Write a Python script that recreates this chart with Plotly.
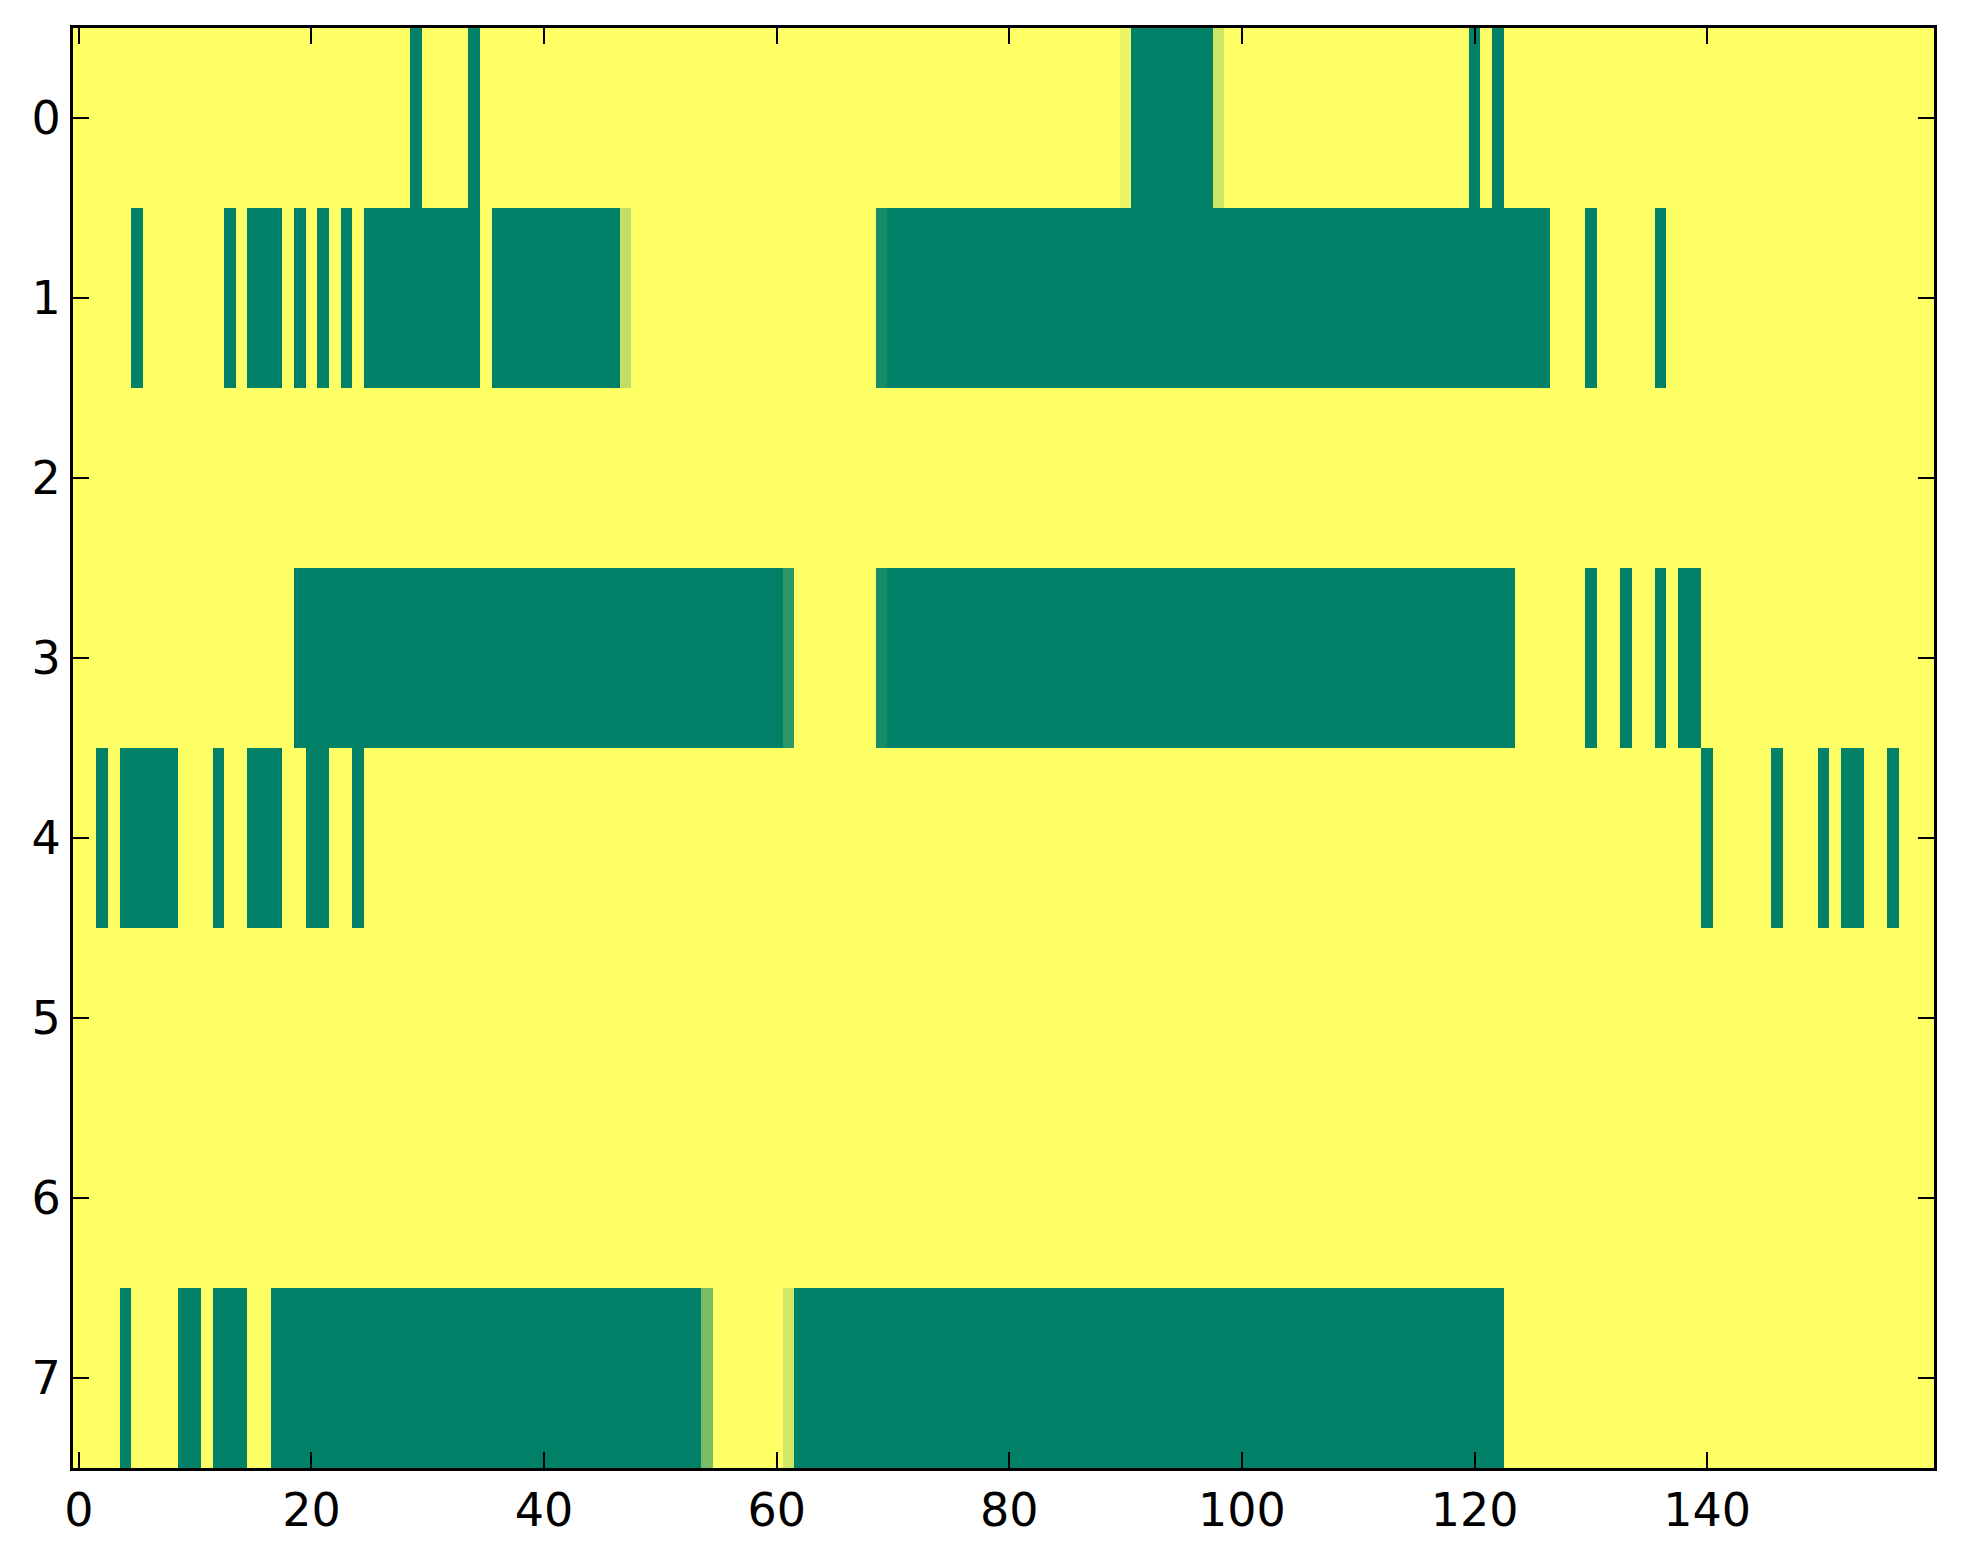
import plotly.graph_objects as go

# ------------ data: 8 rows x 160 columns (1 = yellow, 0 = green)
row_0 = [
    1, 1, 1, 1, 1, 1, 1, 1, 1, 1, 1, 1, 1, 1, 1, 1, 1, 1, 1, 1,
    1, 1, 1, 1, 1, 1, 1, 1, 1, 0, 1, 1, 1, 1, 0, 1, 1, 1, 1, 1,
    1, 1, 1, 1, 1, 1, 1, 1, 1, 1, 1, 1, 1, 1, 1, 1, 1, 1, 1, 1,
    1, 1, 1, 1, 1, 1, 1, 1, 1, 1, 1, 1, 1, 1, 1, 1, 1, 1, 1, 1,
    1, 1, 1, 1, 1, 1, 1, 1, 1, 1, 0.92, 0, 0, 0, 0, 0, 0, 0, 0.8, 1,
    1, 1, 1, 1, 1, 1, 1, 1, 1, 1, 1, 1, 1, 1, 1, 1, 1, 1, 1, 1,
    0, 1, 0, 1, 1, 1, 1, 1, 1, 1, 1, 1, 1, 1, 1, 1, 1, 1, 1, 1,
    1, 1, 1, 1, 1, 1, 1, 1, 1, 1, 1, 1, 1, 1, 1, 1, 1, 1, 1, 1,
]
row_1 = [
    1, 1, 1, 1, 1, 0, 1, 1, 1, 1, 1, 1, 1, 0, 1, 0, 0, 0, 1, 0,
    1, 0, 1, 0, 1, 0, 0, 0, 0, 0, 0, 0, 0, 0, 0, 1, 0, 0, 0, 0,
    0, 0, 0, 0, 0, 0, 0, 0.75, 1, 1, 1, 1, 1, 1, 1, 1, 1, 1, 1, 1,
    1, 1, 1, 1, 1, 1, 1, 1, 1, 0.09, 0, 0, 0, 0, 0, 0, 0, 0, 0, 0,
    0, 0, 0, 0, 0, 0, 0, 0, 0, 0, 0, 0, 0, 0, 0, 0, 0, 0, 0, 0,
    0, 0, 0, 0, 0, 0, 0, 0, 0, 0, 0, 0, 0, 0, 0, 0, 0, 0, 0, 0,
    0, 0, 0, 0, 0, 0, 0, 1, 1, 1, 0, 1, 1, 1, 1, 1, 0, 1, 1, 1,
    1, 1, 1, 1, 1, 1, 1, 1, 1, 1, 1, 1, 1, 1, 1, 1, 1, 1, 1, 1,
]
row_2 = [
    1, 1, 1, 1, 1, 1, 1, 1, 1, 1, 1, 1, 1, 1, 1, 1, 1, 1, 1, 1,
    1, 1, 1, 1, 1, 1, 1, 1, 1, 1, 1, 1, 1, 1, 1, 1, 1, 1, 1, 1,
    1, 1, 1, 1, 1, 1, 1, 1, 1, 1, 1, 1, 1, 1, 1, 1, 1, 1, 1, 1,
    1, 1, 1, 1, 1, 1, 1, 1, 1, 1, 1, 1, 1, 1, 1, 1, 1, 1, 1, 1,
    1, 1, 1, 1, 1, 1, 1, 1, 1, 1, 1, 1, 1, 1, 1, 1, 1, 1, 1, 1,
    1, 1, 1, 1, 1, 1, 1, 1, 1, 1, 1, 1, 1, 1, 1, 1, 1, 1, 1, 1,
    1, 1, 1, 1, 1, 1, 1, 1, 1, 1, 1, 1, 1, 1, 1, 1, 1, 1, 1, 1,
    1, 1, 1, 1, 1, 1, 1, 1, 1, 1, 1, 1, 1, 1, 1, 1, 1, 1, 1, 1,
]
row_3 = [
    1, 1, 1, 1, 1, 1, 1, 1, 1, 1, 1, 1, 1, 1, 1, 1, 1, 1, 1, 0,
    0, 0, 0, 0, 0, 0, 0, 0, 0, 0, 0, 0, 0, 0, 0, 0, 0, 0, 0, 0,
    0, 0, 0, 0, 0, 0, 0, 0, 0, 0, 0, 0, 0, 0, 0, 0, 0, 0, 0, 0,
    0, 0.18, 1, 1, 1, 1, 1, 1, 1, 0.09, 0, 0, 0, 0, 0, 0, 0, 0, 0, 0,
    0, 0, 0, 0, 0, 0, 0, 0, 0, 0, 0, 0, 0, 0, 0, 0, 0, 0, 0, 0,
    0, 0, 0, 0, 0, 0, 0, 0, 0, 0, 0, 0, 0, 0, 0, 0, 0, 0, 0, 0,
    0, 0, 0, 0, 1, 1, 1, 1, 1, 1, 0, 1, 1, 0, 1, 1, 0, 1, 0, 0,
    1, 1, 1, 1, 1, 1, 1, 1, 1, 1, 1, 1, 1, 1, 1, 1, 1, 1, 1, 1,
]
row_4 = [
    1, 1, 0, 1, 0, 0, 0, 0, 0, 1, 1, 1, 0, 1, 1, 0, 0, 0, 1, 1,
    0, 0, 1, 1, 0, 1, 1, 1, 1, 1, 1, 1, 1, 1, 1, 1, 1, 1, 1, 1,
    1, 1, 1, 1, 1, 1, 1, 1, 1, 1, 1, 1, 1, 1, 1, 1, 1, 1, 1, 1,
    1, 1, 1, 1, 1, 1, 1, 1, 1, 1, 1, 1, 1, 1, 1, 1, 1, 1, 1, 1,
    1, 1, 1, 1, 1, 1, 1, 1, 1, 1, 1, 1, 1, 1, 1, 1, 1, 1, 1, 1,
    1, 1, 1, 1, 1, 1, 1, 1, 1, 1, 1, 1, 1, 1, 1, 1, 1, 1, 1, 1,
    1, 1, 1, 1, 1, 1, 1, 1, 1, 1, 1, 1, 1, 1, 1, 1, 1, 1, 1, 1,
    0, 1, 1, 1, 1, 1, 0, 1, 1, 1, 0, 1, 0, 0, 1, 1, 0, 1, 1, 1,
]
row_5 = [
    1, 1, 1, 1, 1, 1, 1, 1, 1, 1, 1, 1, 1, 1, 1, 1, 1, 1, 1, 1,
    1, 1, 1, 1, 1, 1, 1, 1, 1, 1, 1, 1, 1, 1, 1, 1, 1, 1, 1, 1,
    1, 1, 1, 1, 1, 1, 1, 1, 1, 1, 1, 1, 1, 1, 1, 1, 1, 1, 1, 1,
    1, 1, 1, 1, 1, 1, 1, 1, 1, 1, 1, 1, 1, 1, 1, 1, 1, 1, 1, 1,
    1, 1, 1, 1, 1, 1, 1, 1, 1, 1, 1, 1, 1, 1, 1, 1, 1, 1, 1, 1,
    1, 1, 1, 1, 1, 1, 1, 1, 1, 1, 1, 1, 1, 1, 1, 1, 1, 1, 1, 1,
    1, 1, 1, 1, 1, 1, 1, 1, 1, 1, 1, 1, 1, 1, 1, 1, 1, 1, 1, 1,
    1, 1, 1, 1, 1, 1, 1, 1, 1, 1, 1, 1, 1, 1, 1, 1, 1, 1, 1, 1,
]
row_6 = [
    1, 1, 1, 1, 1, 1, 1, 1, 1, 1, 1, 1, 1, 1, 1, 1, 1, 1, 1, 1,
    1, 1, 1, 1, 1, 1, 1, 1, 1, 1, 1, 1, 1, 1, 1, 1, 1, 1, 1, 1,
    1, 1, 1, 1, 1, 1, 1, 1, 1, 1, 1, 1, 1, 1, 1, 1, 1, 1, 1, 1,
    1, 1, 1, 1, 1, 1, 1, 1, 1, 1, 1, 1, 1, 1, 1, 1, 1, 1, 1, 1,
    1, 1, 1, 1, 1, 1, 1, 1, 1, 1, 1, 1, 1, 1, 1, 1, 1, 1, 1, 1,
    1, 1, 1, 1, 1, 1, 1, 1, 1, 1, 1, 1, 1, 1, 1, 1, 1, 1, 1, 1,
    1, 1, 1, 1, 1, 1, 1, 1, 1, 1, 1, 1, 1, 1, 1, 1, 1, 1, 1, 1,
    1, 1, 1, 1, 1, 1, 1, 1, 1, 1, 1, 1, 1, 1, 1, 1, 1, 1, 1, 1,
]
row_7 = [
    1, 1, 1, 1, 0, 1, 1, 1, 1, 0, 0, 1, 0, 0, 0, 1, 1, 0, 0, 0,
    0, 0, 0, 0, 0, 0, 0, 0, 0, 0, 0, 0, 0, 0, 0, 0, 0, 0, 0, 0,
    0, 0, 0, 0, 0, 0, 0, 0, 0, 0, 0, 0, 0, 0, 0.47, 1, 1, 1, 1, 1,
    1, 0.82, 0, 0, 0, 0, 0, 0, 0, 0, 0, 0, 0, 0, 0, 0, 0, 0, 0, 0,
    0, 0, 0, 0, 0, 0, 0, 0, 0, 0, 0, 0, 0, 0, 0, 0, 0, 0, 0, 0,
    0, 0, 0, 0, 0, 0, 0, 0, 0, 0, 0, 0, 0, 0, 0, 0, 0, 0, 0, 0,
    0, 0, 0, 1, 1, 1, 1, 1, 1, 1, 1, 1, 1, 1, 1, 1, 1, 1, 1, 1,
    1, 1, 1, 1, 1, 1, 1, 1, 1, 1, 1, 1, 1, 1, 1, 1, 1, 1, 1, 1,
]

rows = [row_0, row_1, row_2, row_3, row_4, row_5, row_6, row_7]
row_labels = [0, 1, 2, 3, 4, 5, 6, 7]
columns = list(range(len(row_0)))
x_ticks = [0, 20, 40, 60, 80, 100, 120, 140]

# matplotlib "summer" colormap (linear green -> yellow)
summer = [[0.0, "rgb(0,128,102)"], [1.0, "rgb(255,255,102)"]]

fig = go.Figure(go.Heatmap(
    z=rows,
    x=columns,
    y=row_labels,
    colorscale=summer,
    zmin=0,
    zmax=1,
    showscale=False,
))

axis_style = dict(
    showline=True,
    linecolor="black",
    linewidth=3,
    mirror="ticks",
    ticks="inside",
    ticklen=16,
    tickwidth=2,
    tickcolor="black",
    showgrid=False,
    zeroline=False,
    tickfont=dict(family="DejaVu Sans", size=46, color="black"),
)

fig.update_xaxes(range=[-0.5, 159.5], tickvals=x_ticks, **axis_style)
fig.update_yaxes(range=[7.5, -0.5], tickvals=row_labels, **axis_style)

# page body adds an 8px offset, margins account for it
fig.update_layout(
    width=1963,
    height=1564,
    margin={"l": 65, "r": 37, "t": 20, "b": 104},
    paper_bgcolor="white",
    plot_bgcolor="white",
)

fig.write_html("out.html")
